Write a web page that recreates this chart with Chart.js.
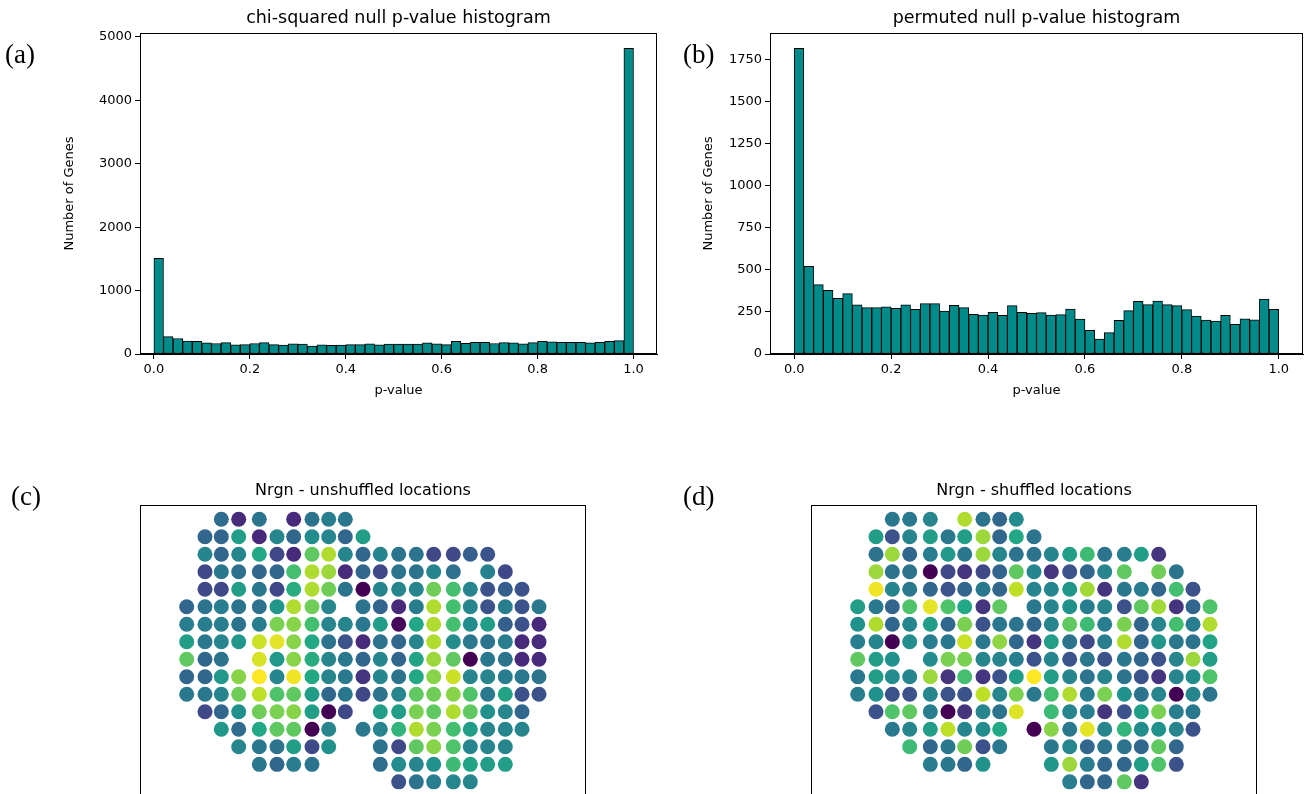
<!DOCTYPE html>
<html>
<head>
<meta charset="utf-8">
<script src="https://cdn.jsdelivr.net/npm/chart.js@4.4.0/dist/chart.umd.min.js"></script>
<style>
  html, body { margin: 0; padding: 0; background: #fff; }
  #page { position: relative; width: 1307px; height: 794px; overflow: hidden; background: #fff; }
  #page canvas { position: absolute; }
  .tag { position: absolute; font-family: 'Liberation Serif', serif; font-size: 27px; line-height: 1; color: #000; }
</style>
</head>
<body>
<div id="page">
  <canvas id="histA" width="665" height="410" style="left:0px;top:0px"></canvas>
  <canvas id="histB" width="627" height="410" style="left:680px;top:0px"></canvas>
  <canvas id="spotC" width="600" height="360" style="left:0px;top:470px"></canvas>
  <canvas id="spotD" width="600" height="360" style="left:671px;top:470px"></canvas>
  <div class="tag" style="left:5px;top:41px">(a)</div>
  <div class="tag" style="left:683px;top:41px">(b)</div>
  <div class="tag" style="left:11px;top:483px">(c)</div>
  <div class="tag" style="left:683px;top:483px">(d)</div>
</div>
<script>
// histogram counts, 50 bins over [0, 1]
const nBins = 50;
const chiCounts = [1510, 275, 245, 205, 198, 175, 165, 180, 145, 148,
                   165, 180, 148, 140, 160, 155, 125, 145, 135, 140,
                   148, 148, 160, 145, 155, 155, 155, 155, 175, 160,
                   148, 198, 170, 185, 185, 165, 180, 175, 160, 180,
                   198, 190, 185, 185, 185, 175, 185, 198, 212, 4820];
const permCounts = [1819, 522, 413, 379, 331, 359, 292, 276, 276, 280,
                    272, 292, 266, 300, 300, 256, 290, 276, 236, 232,
                    248, 230, 288, 248, 242, 246, 232, 234, 268, 208,
                    141, 89, 127, 200, 258, 313, 294, 315, 294, 288,
                    264, 226, 202, 196, 230, 177, 210, 204, 327, 266];

// tick labels
const pTicks = [0, 0.2, 0.4, 0.6, 0.8, 1.0];
const chiTicks = [0, 1000, 2000, 3000, 4000, 5000];
const permTicks = [0, 250, 500, 750, 1000, 1250, 1500, 1750];

// spot array: x coordinate of each column, and which columns are present in each row
const colX = [0, 18.3, 34.6, 52, 72.6, 90.3, 107, 125.3, 142, 158.6, 176.3,
              193.6, 212, 229.6, 247, 266.6, 283.6, 301, 318.6, 335.3, 352.3];
const spotCols = [
  [2, 3, 4, 6, 7, 8, 9],
  [1, 2, 3, 4, 5, 6, 7, 8, 9, 10],
  [1, 2, 3, 4, 5, 6, 7, 8, 9, 10, 11, 12, 13, 14, 15, 16, 17],
  [1, 2, 3, 4, 5, 6, 7, 8, 9, 10, 11, 12, 13, 14, 15, 17, 18],
  [1, 2, 3, 4, 5, 6, 7, 8, 9, 10, 11, 12, 13, 14, 15, 16, 17, 18, 19],
  [0, 1, 2, 3, 4, 5, 6, 7, 8, 10, 11, 12, 13, 14, 15, 16, 17, 18, 19, 20],
  [0, 1, 2, 3, 4, 5, 6, 7, 8, 9, 10, 11, 12, 13, 14, 15, 16, 17, 18, 19, 20],
  [0, 1, 2, 3, 4, 5, 6, 7, 8, 9, 10, 11, 12, 13, 14, 15, 16, 17, 18, 19, 20],
  [0, 1, 2, 4, 5, 6, 7, 8, 9, 10, 11, 12, 13, 14, 15, 16, 17, 18, 19, 20],
  [0, 1, 2, 3, 4, 5, 6, 7, 8, 9, 10, 11, 12, 13, 14, 15, 16, 17, 18, 19, 20],
  [0, 1, 2, 3, 4, 5, 6, 7, 8, 9, 10, 11, 12, 13, 14, 15, 16, 17, 18, 19, 20],
  [1, 2, 3, 4, 5, 6, 7, 8, 9, 11, 12, 13, 14, 15, 16, 17, 18, 19],
  [2, 3, 4, 5, 6, 7, 8, 10, 11, 12, 13, 14, 15, 16, 17, 18, 19],
  [3, 4, 5, 6, 7, 8, 11, 12, 13, 14, 15, 16, 17, 18],
  [4, 5, 6, 7, 11, 12, 13, 14, 15, 16, 17, 18],
  [12, 13, 14, 15, 16]
];

// normalised Nrgn expression per spot (same order as spotCols)
const unshuffled = [
  [.35, .12, .38, .12, .38, .42, .40],
  [.33, .33, .55, .12, .45, .33, .48, .45, .33, .55],
  [.45, .33, .45, .60, .22, .12, .75, .88, .45, .33, .45, .38, .38, .22, .22, .30, .25],
  [.22, .40, .36, .33, .33, .70, .88, .85, .12, .33, .22, .38, .38, .45, .37, .43, .22],
  [.22, .22, .55, .40, .22, .62, .88, .78, .38, .00, .45, .45, .45, .78, .70, .45, .25, .30, .25],
  [.33, .38, .42, .38, .37, .52, .88, .78, .45, .38, .32, .12, .42, .88, .70, .45, .25, .42, .25, .40],
  [.42, .42, .42, .38, .42, .80, .82, .70, .45, .45, .40, .55, .02, .60, .88, .70, .48, .55, .30, .25, .12],
  [.55, .40, .45, .52, .92, .96, .82, .60, .38, .25, .12, .38, .33, .45, .88, .48, .40, .38, .42, .12, .12],
  [.75, .33, .38, .94, .53, .82, .62, .45, .40, .33, .45, .33, .58, .85, .75, .00, .40, .38, .12, .12],
  [.33, .33, .53, .82, 1.0, .45, .98, .60, .45, .40, .15, .45, .38, .60, .82, .92, .45, .45, .42, .40, .38],
  [.40, .40, .45, .78, .90, .72, .75, .55, .33, .40, .22, .38, .45, .75, .78, .82, .72, .40, .58, .25, .25],
  [.22, .33, .50, .78, .80, .82, .55, .00, .22, .55, .55, .80, .75, .88, .75, .50, .45, .33],
  [.52, .35, .60, .75, .75, .00, .45, .40, .45, .65, .88, .80, .70, .55, .45, .45, .45],
  [.45, .40, .38, .55, .22, .50, .38, .22, .75, .82, .72, .45, .45, .45],
  [.40, .33, .42, .38, .35, .48, .45, .50, .68, .58, .55, .55],
  [.25, .38, .42, .45, .45]
];
const shuffled = [
  [.40, .40, .45, .88, .38, .33, .48],
  [.55, .25, .45, .55, .40, .55, .85, .33, .60, .38],
  [.38, .85, .33, .42, .53, .40, .85, .45, .38, .38, .45, .55, .68, .38, .42, .55, .15],
  [.85, .38, .38, .00, .22, .15, .22, .32, .75, .45, .15, .25, .33, .45, .75, .78, .38],
  [.98, .45, .40, .33, .25, .33, .40, .33, .90, .45, .45, .52, .86, .15, .40, .42, .33, .70, .25],
  [.55, .40, .32, .72, .96, .72, .60, .15, .75, .40, .45, .50, .42, .45, .25, .75, .86, .15, .33, .72],
  [.50, .88, .33, .45, .55, .33, .80, .25, .40, .38, .33, .45, .75, .68, .42, .80, .33, .45, .70, .42, .88],
  [.42, .45, .00, .48, .42, .40, .92, .40, .83, .33, .15, .55, .38, .22, .42, .88, .33, .52, .40, .38, .58],
  [.75, .55, .50, .48, .80, .80, .45, .45, .42, .25, .45, .25, .40, .25, .40, .33, .25, .45, .85, .55],
  [.40, .55, .48, .45, .85, .15, .70, .15, .25, .55, 1.0, .55, .45, .38, .45, .38, .25, .15, .45, .48, .72],
  [.42, .50, .25, .25, .45, .25, .25, .90, .45, .80, .40, .70, .88, .42, .80, .50, .38, .45, .00, .45, .38],
  [.25, .72, .75, .42, .00, .15, .45, .38, .95, .68, .45, .42, .15, .25, .55, .80, .42, .40],
  [.40, .45, .55, .90, .45, .48, .60, .00, .82, .40, .96, .45, .65, .48, .50, .45, .25],
  [.68, .33, .40, .78, .25, .40, .40, .45, .33, .38, .38, .33, .75, .33],
  [.42, .40, .33, .50, .52, .85, .42, .33, .33, .55, .72, .25],
  [.42, .33, .33, .75, .15]
];

Chart.defaults.font.family = "'DejaVu Sans', sans-serif";
Chart.defaults.color = '#000';

const viridisStops = ['#440154', '#482475', '#414487', '#355f8d', '#2a788e', '#21918c',
                      '#22a884', '#44bf70', '#7ad151', '#bddf26', '#fde725'];
function hexRgb(h) {
    return [parseInt(h.slice(1, 3), 16), parseInt(h.slice(3, 5), 16), parseInt(h.slice(5, 7), 16)];
}
function viridis(t) {
    t = Math.min(1, Math.max(0, t));
    const p = t * (viridisStops.length - 1);
    const i = Math.min(Math.floor(p), viridisStops.length - 2);
    const f = p - i;
    const a = hexRgb(viridisStops[i]), b = hexRgb(viridisStops[i + 1]);
    const c = a.map((v, k) => Math.round(v + (b[k] - v) * f));
    return `rgb(${c[0]}, ${c[1]}, ${c[2]})`;
}

// black box round the plot area, like matplotlib spines
const framePlugin = {
    id: 'frame',
    afterDraw(chart) {
        const a = chart.chartArea;
        const ctx = chart.ctx;
        ctx.save();
        ctx.strokeStyle = '#000';
        ctx.lineWidth = 1;
        ctx.strokeRect(Math.round(a.left) + 0.5, Math.round(a.top) + 0.5,
                       Math.round(a.right - a.left) - 1, Math.round(a.bottom - a.top) - 1);
        ctx.restore();
    }
};

const binMid = [];
for (let i = 0; i < nBins; i++) binMid.push((i + 0.5) / nBins);

function fixedTicks(values) {
    return scale => { scale.ticks = values.map(v => ({ value: v })); };
}

function histChart(id, title, counts, yTicks, o) {
    new Chart(document.getElementById(id), {
        type: 'bar',
        data: {
            datasets: [{
                data: binMid.map((x, i) => ({ x: x, y: counts[i] })),
                backgroundColor: '#008b8b',
                borderColor: '#000',
                borderWidth: 1,
                borderSkipped: false,
                barPercentage: 1,
                categoryPercentage: 1,
                grouped: false
            }]
        },
        options: {
            responsive: false,
            animation: false,
            layout: { padding: { right: o.padRight } },
            plugins: {
                legend: { display: false },
                tooltip: { enabled: false },
                title: {
                    display: true,
                    text: title,
                    fullSize: false,
                    color: '#000',
                    font: { size: 17.5, weight: 'normal' },
                    padding: { top: 7.5, bottom: 4.5 }
                }
            },
            scales: {
                x: {
                    type: 'linear',
                    min: o.xMin,
                    max: o.xMax,
                    offset: false,
                    afterBuildTicks: fixedTicks(pTicks),
                    grid: { display: true, drawOnChartArea: false, drawTicks: true, tickLength: 5, color: '#000', offset: false },
                    border: { display: true, color: '#000' },
                    ticks: {
                        autoSkip: false,
                        maxRotation: 0,
                        padding: 3,
                        color: '#000',
                        font: { size: 13 },
                        callback: v => Number(v).toFixed(1)
                    },
                    title: { display: true, text: 'p-value', color: '#000', font: { size: 13 }, padding: { top: 0, bottom: 11.5 } },
                    afterFit: s => { s.height = 56; }
                },
                y: {
                    type: 'linear',
                    min: 0,
                    max: o.yMax,
                    afterBuildTicks: fixedTicks(yTicks),
                    grid: { display: true, drawOnChartArea: false, drawTicks: true, tickLength: 5, color: '#000' },
                    border: { display: true, color: '#000' },
                    ticks: {
                        autoSkip: false,
                        padding: 3,
                        color: '#000',
                        font: { size: 13 },
                        callback: v => String(v)
                    },
                    title: { display: true, text: 'Number of Genes', color: '#000', font: { size: 13 }, padding: { top: o.yTitlePad, bottom: 0 } },
                    afterFit: s => { s.width = o.yWidth; }
                }
            }
        },
        plugins: [framePlugin]
    });
}

function spotChart(id, title, values) {
    const pts = [];
    const colors = [];
    spotCols.forEach((cols, r) => {
        cols.forEach((c, k) => {
            pts.push({ x: colX[c], y: r });
            colors.push(viridis(values[r][k]));
        });
    });
    new Chart(document.getElementById(id), {
        type: 'scatter',
        data: {
            datasets: [{
                data: pts,
                backgroundColor: colors,
                borderWidth: 0,
                pointRadius: 7.5,
                pointHoverRadius: 7.5
            }]
        },
        options: {
            responsive: false,
            animation: false,
            layout: { padding: { left: 140, right: 14, top: 0, bottom: 10 } },
            plugins: {
                legend: { display: false },
                tooltip: { enabled: false },
                title: {
                    display: true,
                    text: title,
                    fullSize: false,
                    color: '#000',
                    font: { size: 16, weight: 'normal' },
                    padding: { top: 11, bottom: 5 }
                }
            },
            scales: {
                x: { type: 'linear', display: false, min: -46.7, max: 399.3 },
                y: { type: 'linear', display: false, reverse: true, min: -0.8, max: 17.18 }
            }
        },
        plugins: [framePlugin]
    });
}

histChart('histA', 'chi-squared null p-value histogram', chiCounts, chiTicks,
    { xMin: -0.029, xMax: 1.049, yMax: 5061, yWidth: 140, yTitlePad: 62, padRight: 8 });
histChart('histB', 'permuted null p-value histogram', permCounts, permTicks,
    { xMin: -0.05, xMax: 1.05, yMax: 1910, yWidth: 90, yTitlePad: 21, padRight: 4 });
spotChart('spotC', 'Nrgn - unshuffled locations', unshuffled);
spotChart('spotD', 'Nrgn - shuffled locations', shuffled);
</script>
</body>
</html>
